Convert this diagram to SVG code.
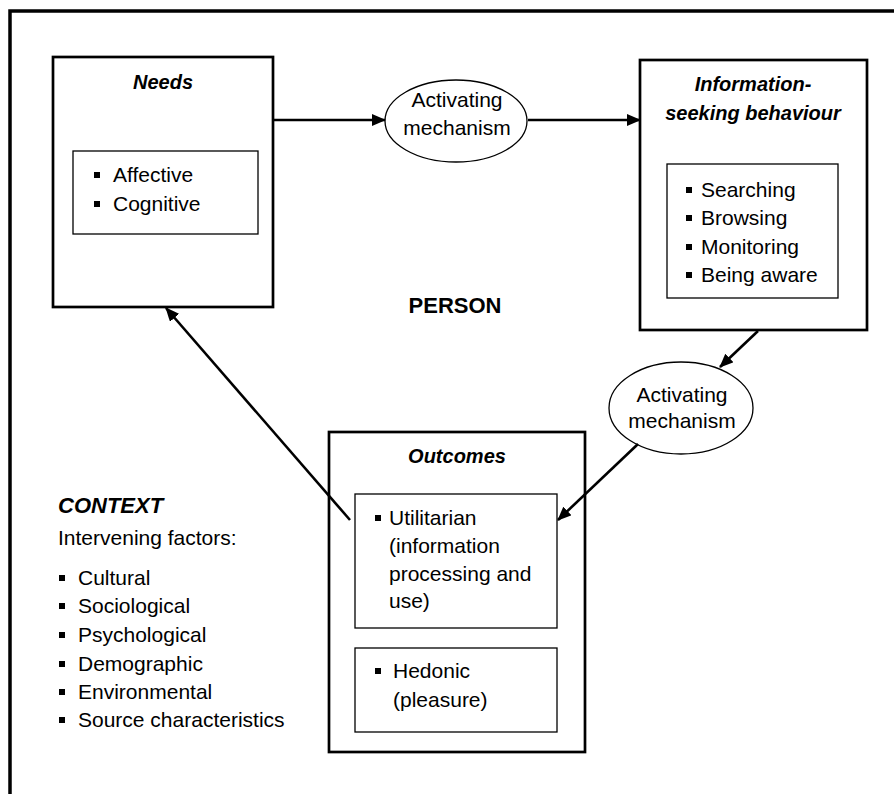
<svg xmlns="http://www.w3.org/2000/svg" width="894" height="794" viewBox="0 0 894 794">
<style>
.t{font-family:"Liberation Sans",Arial,sans-serif;font-size:21px;fill:#000}
.h{font-family:"Liberation Sans",Arial,sans-serif;font-size:20px;font-weight:bold;font-style:italic;fill:#000}
.big{font-family:"Liberation Sans",Arial,sans-serif;font-size:22px;font-weight:bold;fill:#000}
.box{fill:#fff;stroke:#000;stroke-width:2.7}
.inner{fill:#fff;stroke:#000;stroke-width:1.3}
.ell{fill:#fff;stroke:#000;stroke-width:1.3}
.conn{stroke:#000;stroke-width:2.6;fill:none;marker-end:url(#ah)}
.b{fill:#000}
</style>
<defs>
<marker id="ah" viewBox="0 0 14 12" refX="13" refY="6" markerWidth="14" markerHeight="12" markerUnits="userSpaceOnUse" orient="auto">
<path d="M0,0 L14,6 L0,12 z" fill="#000"/>
</marker>
</defs>
<rect width="894" height="794" fill="#fff"/>
<g id="frame">
<path d="M10,794 L10,11 L894,11" fill="none" stroke="#000" stroke-width="3.5"/>
</g>
<g id="needs">
<rect class="box" x="53" y="57" width="220" height="250"/>
<text class="h" x="163" y="89" text-anchor="middle">Needs</text>
<rect class="inner" x="73" y="151" width="185" height="83"/>
<rect class="b" x="94" y="172" width="6" height="6"/>
<text class="t" x="113" y="182">Affective</text>
<rect class="b" x="94" y="201" width="6" height="6"/>
<text class="t" x="113" y="211">Cognitive</text>
</g>
<g id="activating1">
<ellipse class="ell" cx="456" cy="121" rx="71" ry="41"/>
<text class="t" x="457" y="107" text-anchor="middle">Activating</text>
<text class="t" x="457" y="135" text-anchor="middle">mechanism</text>
</g>
<g id="info-seeking">
<rect class="box" x="640" y="60" width="227" height="270"/>
<text class="h" x="753" y="91" text-anchor="middle">Information-</text>
<text class="h" x="753" y="120" text-anchor="middle">seeking behaviour</text>
<rect class="inner" x="667" y="164" width="171" height="134"/>
<rect class="b" x="686" y="187" width="6" height="6"/>
<text class="t" x="701" y="197">Searching</text>
<rect class="b" x="686" y="215" width="6" height="6"/>
<text class="t" x="701" y="225">Browsing</text>
<rect class="b" x="686" y="244" width="6" height="6"/>
<text class="t" x="701" y="254">Monitoring</text>
<rect class="b" x="686" y="272" width="6" height="6"/>
<text class="t" x="701" y="282">Being aware</text>
</g>
<g id="person">
<text class="big" x="455" y="313" text-anchor="middle">PERSON</text>
</g>
<g id="activating2">
<ellipse class="ell" cx="681" cy="408" rx="72" ry="46"/>
<text class="t" x="682" y="402" text-anchor="middle">Activating</text>
<text class="t" x="682" y="428" text-anchor="middle">mechanism</text>
</g>
<g id="outcomes">
<rect class="box" x="329" y="432" width="256" height="320"/>
<text class="h" x="457" y="463" text-anchor="middle">Outcomes</text>
<rect class="inner" x="355" y="494" width="202" height="134"/>
<rect class="b" x="375" y="515" width="6" height="6"/>
<text class="t" x="389" y="525">Utilitarian</text>
<text class="t" x="389" y="553">(information</text>
<text class="t" x="389" y="581">processing and</text>
<text class="t" x="389" y="608">use)</text>
<rect class="inner" x="355" y="648" width="202" height="84"/>
<rect class="b" x="375" y="668" width="6" height="6"/>
<text class="t" x="393" y="678">Hedonic</text>
<text class="t" x="393" y="707">(pleasure)</text>
</g>
<g id="context">
<text class="big" font-style="italic" x="58" y="513">CONTEXT</text>
<text class="t" x="58" y="545">Intervening factors:</text>
<rect class="b" x="59" y="575" width="6" height="6"/>
<text class="t" x="78" y="585">Cultural</text>
<rect class="b" x="59" y="603" width="6" height="6"/>
<text class="t" x="78" y="613">Sociological</text>
<rect class="b" x="59" y="632" width="6" height="6"/>
<text class="t" x="78" y="642">Psychological</text>
<rect class="b" x="59" y="661" width="6" height="6"/>
<text class="t" x="78" y="671">Demographic</text>
<rect class="b" x="59" y="689" width="6" height="6"/>
<text class="t" x="78" y="699">Environmental</text>
<rect class="b" x="59" y="717" width="6" height="6"/>
<text class="t" x="78" y="727">Source characteristics</text>
</g>
<g id="connectors">
<line class="conn" x1="274" y1="120" x2="385" y2="120"/>
<line class="conn" x1="528" y1="120" x2="640" y2="120"/>
<line class="conn" x1="758" y1="331" x2="720" y2="367"/>
<line class="conn" x1="638" y1="444" x2="558" y2="520"/>
<line class="conn" x1="350" y1="520" x2="166" y2="308"/>
</g>
</svg>
